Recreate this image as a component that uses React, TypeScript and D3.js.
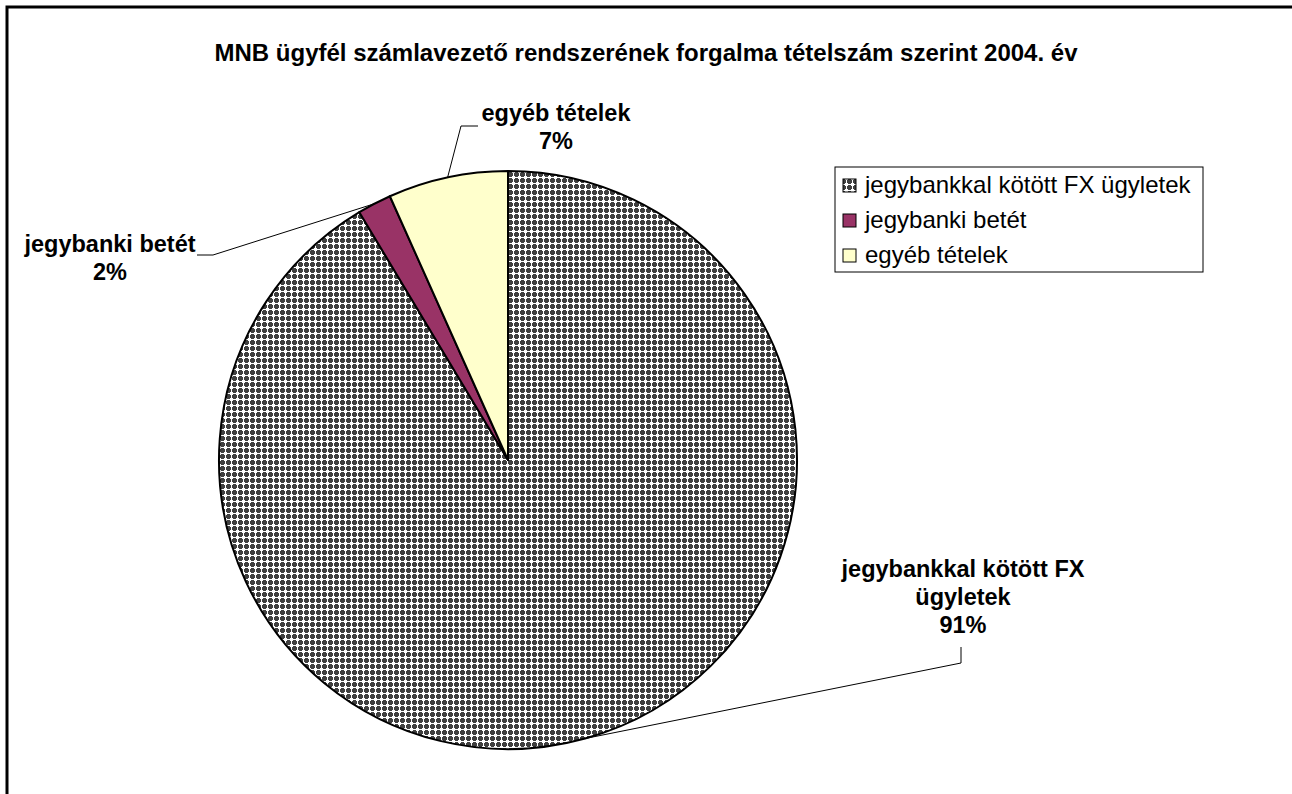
import React, { useRef, useEffect } from 'react';
import * as d3 from 'd3';

const categories = ['jegybankkal kötött FX ügyletek', 'jegybanki betét', 'egyéb tételek'];
const values = [91.4, 1.9, 6.7];
const percentLabels = ['91%', '2%', '7%'];
const nameLines = [['jegybankkal kötött FX', 'ügyletek'], ['jegybanki betét'], ['egyéb tételek']];
const title = 'MNB ügyfél számlavezető rendszerének forgalma tételszám szerint 2004. év';

const App = () => {
    const svgRef = useRef<SVGSVGElement>(null);

    useEffect(() => {
        const svg = d3.select(svgRef.current);
        svg.selectAll('*').remove();

        const width = 1292;
        const height = 794;
        const cx = 508;
        const cy = 460;
        const radius = 289;
        const font = 'Liberation Sans, Arial, sans-serif';

        // fill pattern for the big slice
        const defs = svg.append('defs');
        const pat = defs.append('pattern')
            .attr('id', 'dots')
            .attr('patternUnits', 'userSpaceOnUse')
            .attr('width', 6)
            .attr('height', 6);
        pat.append('rect').attr('width', 6).attr('height', 6).attr('fill', '#ffffff');
        pat.append('rect').attr('x', 1).attr('y', 0).attr('width', 3).attr('height', 5).attr('fill', '#404040');
        pat.append('rect').attr('x', 0).attr('y', 1).attr('width', 5).attr('height', 3).attr('fill', '#404040');

        const fills = ['url(#dots)', '#993366', '#ffffcc'];

        svg.append('rect')
            .attr('x', 7)
            .attr('y', 7)
            .attr('width', width + 20)
            .attr('height', height + 20)
            .attr('fill', 'white')
            .attr('stroke', 'black')
            .attr('stroke-width', 3);

        svg.append('text')
            .attr('x', 646)
            .attr('y', 61)
            .attr('text-anchor', 'middle')
            .attr('font-family', font)
            .attr('font-weight', 'bold')
            .attr('font-size', 24)
            .text(title);

        const pie = d3.pie<number>().sort(null).value(d => d);
        const arcs = pie(values);
        const arc = d3.arc<d3.PieArcDatum<number>>().innerRadius(0).outerRadius(radius);

        const g = svg.append('g').attr('transform', `translate(${cx},${cy})`);

        g.selectAll('path.slice')
            .data(arcs)
            .join('path')
            .attr('class', 'slice')
            .attr('d', arc)
            .attr('fill', (d, i) => fills[i])
            .attr('stroke', 'black')
            .attr('stroke-width', 2)
            .attr('stroke-linejoin', 'round');

        // label layout: text block (center x, first baseline) and leader elbow
        const labelPos = [
            { x: 963, y: 577, elbowX: 961, elbowY: 647, elbowY2: 663, dir: 'v' },
            { x: 110, y: 252, elbowX: 197, elbowY: 255, elbowX2: 213, dir: 'h' },
            { x: 556, y: 121, elbowX: 478, elbowY: 126, elbowX2: 461, dir: 'h' },
        ];
        const lineHeight = 28;

        arcs.forEach((a, i) => {
            const mid = (a.startAngle + a.endAngle) / 2;
            const px = cx + radius * Math.sin(mid);
            const py = cy - radius * Math.cos(mid);
            const lp = labelPos[i];
            const pts: [number, number][] = lp.dir === 'v'
                ? [[lp.elbowX, lp.elbowY], [lp.elbowX, lp.elbowY2 as number], [px, py]]
                : [[lp.elbowX, lp.elbowY], [lp.elbowX2 as number, lp.elbowY], [px, py]];
            svg.append('path')
                .attr('d', d3.line()(pts))
                .attr('fill', 'none')
                .attr('stroke', 'black')
                .attr('stroke-width', 1);

            const lines = [...nameLines[i], percentLabels[i]];
            lines.forEach((s, j) => {
                svg.append('text')
                    .attr('x', lp.x)
                    .attr('y', lp.y + j * lineHeight)
                    .attr('text-anchor', 'middle')
                    .attr('font-family', font)
                    .attr('font-weight', 'bold')
                    .attr('font-size', 23.5)
                    .text(s);
            });
        });

        // legend
        const legend = svg.append('g').attr('transform', 'translate(835,167)');
        legend.append('rect')
            .attr('width', 368)
            .attr('height', 105)
            .attr('fill', 'white')
            .attr('stroke', 'black')
            .attr('stroke-width', 1);

        categories.forEach((c, i) => {
            const y = 26 + i * 35;
            legend.append('rect')
                .attr('x', 8)
                .attr('y', y - 14)
                .attr('width', 13)
                .attr('height', 13)
                .attr('fill', fills[i])
                .attr('stroke', 'black')
                .attr('stroke-width', 1);
            legend.append('text')
                .attr('x', 30)
                .attr('y', y)
                .attr('font-family', font)
                .attr('font-size', 24)
                .text(c);
        });
    }, []);

    return (
        <svg ref={svgRef} width={1292} height={794}
            style={{ position: 'absolute', left: 0, top: 0, background: 'white' }} />
    );
};

export default App;
